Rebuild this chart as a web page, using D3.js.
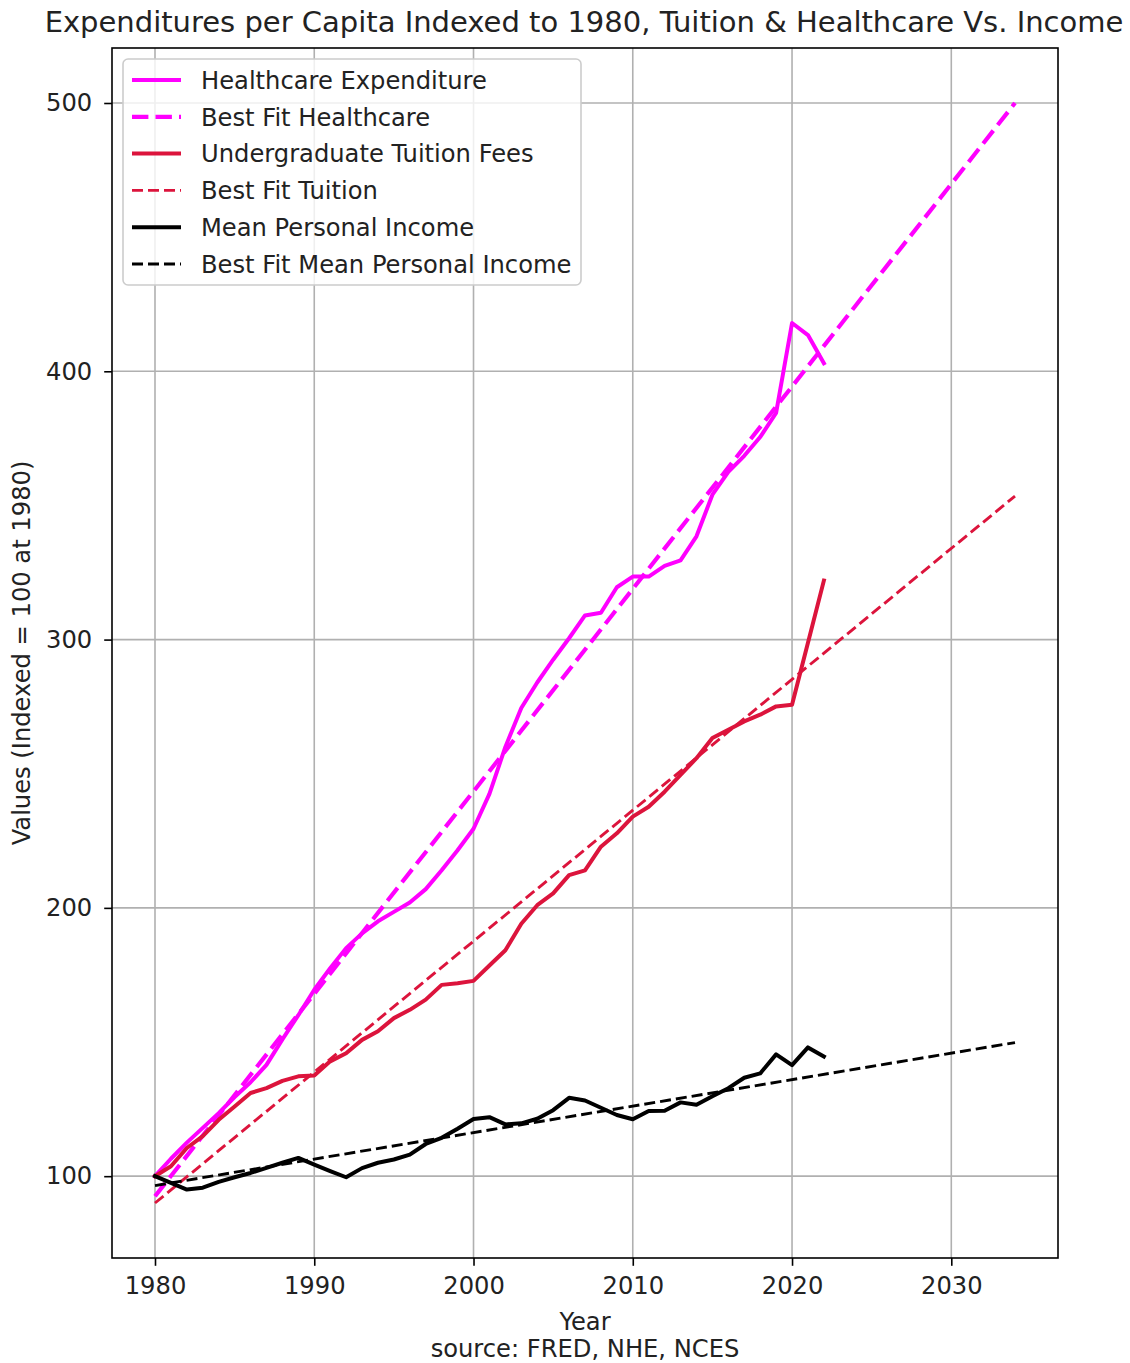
<!DOCTYPE html>
<html>
<head>
<meta charset="utf-8">
<script src="https://cdn.jsdelivr.net/npm/d3@7"></script>
<style>
  html, body { margin: 0; padding: 0; background: #fff; }
  svg { display: block; font-family: "DejaVu Sans", sans-serif; }
</style>
</head>
<body>
<svg id="chart" width="1130" height="1363"></svg>
<script>
// ---------------- data ----------------
const years = [1980,1981,1982,1983,1984,1985,1986,1987,1988,1989,
               1990,1991,1992,1993,1994,1995,1996,1997,1998,1999,
               2000,2001,2002,2003,2004,2005,2006,2007,2008,2009,
               2010,2011,2012,2013,2014,2015,2016,2017,2018,2019,
               2020,2021,2022];
const healthcare = [100,106.5,112.5,118,123.5,129.5,135,141.5,151,160,
                    169.5,177.5,185,190.5,195,198.5,202,207,214,221.5,
                    229.5,242.5,260,274.5,284,292.5,300.5,309,310,319.5,
                    323.5,323.5,327.5,329.5,338.5,354,362.5,368.5,375.5,384.5,
                    418,413.5,403];
const tuition = [100,103.7,110.5,114.9,121,126,131,132.8,135.5,137.2,
                 137.5,142.8,145.8,150.8,154,158.9,162,165.8,171.3,171.9,
                 172.8,178.5,184.2,194.1,201,205.4,212.2,214,222.8,227.8,
                 234,237.7,243.3,249.6,255.8,263.3,266.4,269.5,272,275.1,
                 275.7,298.8,322];
const income = [100,97.5,95,95.7,97.9,99.6,101.2,103.1,105,106.8,
                104.3,101.9,99.6,103,105,106.2,108,112,114.3,117.7,
                121.3,122,119.3,119.7,121.4,124.6,129.2,128.2,125.5,122.8,
                121.2,124.3,124.4,127.5,126.6,129.8,132.8,136.7,138.3,145.4,
                141.4,148,144.6];
// best-fit lines (endpoints)
const fitYears = [1980, 2034];
const fitHealthcare = [92.5, 500];
const fitTuition = [90, 353.5];
const fitIncome = [96.5, 149.8];

const xTicks = [1980, 1990, 2000, 2010, 2020, 2030];
const yTicks = [100, 200, 300, 400, 500];

const titleText = "Expenditures per Capita Indexed to 1980, Tuition & Healthcare Vs. Income";
const xLabel = ["Year", "source: FRED, NHE, NCES"];
const yLabel = "Values (Indexed = 100 at 1980)";

const legendItems = [
  {label: "Healthcare Expenditure", color: "#ff00ff", width: 4.0, dash: null},
  {label: "Best Fit Healthcare", color: "#ff00ff", width: 4.2, dash: "16.4,7.1"},
  {label: "Undergraduate Tuition Fees", color: "#dc143c", width: 4.0, dash: null},
  {label: "Best Fit Tuition", color: "#dc143c", width: 2.9, dash: "11,5"},
  {label: "Mean Personal Income", color: "#000000", width: 4.0, dash: null},
  {label: "Best Fit Mean Personal Income", color: "#000000", width: 2.9, dash: "11,5"}
];

// ---------------- layout ----------------
const svg = d3.select("#chart");
const L = 112, R = 1058, T = 48, B = 1258;
const FS = 24.2;

const xMin = 1980, xMax = 2034, xPad = (xMax - xMin) * 0.05;
const yMin = d3.min([fitTuition[0], fitHealthcare[0], d3.min(income)]);
const yMax = d3.max([fitHealthcare[1], d3.max(healthcare)]);
const yPad = (yMax - yMin) * 0.05;

const x = d3.scaleLinear().domain([xMin - xPad, xMax + xPad]).range([L, R]);
const y = d3.scaleLinear().domain([yMin - yPad, yMax + yPad]).range([B, T]);

// grid
const grid = svg.append("g");
xTicks.forEach(t => grid.append("line")
  .attr("x1", x(t)).attr("x2", x(t)).attr("y1", T).attr("y2", B)
  .attr("stroke", "#b0b0b0").attr("stroke-width", 1.6));
yTicks.forEach(t => grid.append("line")
  .attr("x1", L).attr("x2", R).attr("y1", y(t)).attr("y2", y(t))
  .attr("stroke", "#b0b0b0").attr("stroke-width", 1.6));

// clip
svg.append("clipPath").attr("id", "clip").append("rect")
  .attr("x", L).attr("y", T).attr("width", R - L).attr("height", B - T);
const plot = svg.append("g").attr("clip-path", "url(#clip)");

const line = d3.line().x(d => x(d[0])).y(d => y(d[1]));

function drawSeries(xs, vals, item) {
  const p = plot.append("path")
    .datum(xs.map((yr, i) => [yr, vals[i]]))
    .attr("d", line)
    .attr("fill", "none")
    .attr("stroke", item.color)
    .attr("stroke-width", item.width)
    .attr("stroke-linejoin", "round")
    .attr("stroke-linecap", item.dash ? "butt" : "square");
  if (item.dash) p.attr("stroke-dasharray", item.dash);
}

drawSeries(years, healthcare, legendItems[0]);
drawSeries(fitYears, fitHealthcare, legendItems[1]);
drawSeries(years, tuition, legendItems[2]);
drawSeries(fitYears, fitTuition, legendItems[3]);
drawSeries(years, income, legendItems[4]);
drawSeries(fitYears, fitIncome, legendItems[5]);

// axes
const xAxis = d3.axisBottom(x).tickValues(xTicks).tickFormat(d3.format("d"))
  .tickSize(7.8).tickPadding(6);
const yAxis = d3.axisLeft(y).tickValues(yTicks).tickFormat(d3.format("d"))
  .tickSize(7.8).tickPadding(12);

const gx = svg.append("g").attr("transform", `translate(0,${B})`).call(xAxis);
const gy = svg.append("g").attr("transform", `translate(${L},0)`).call(yAxis);
[gx, gy].forEach(g => {
  g.select(".domain").remove();
  g.selectAll(".tick line").attr("stroke", "#000").attr("stroke-width", 1.6);
  g.selectAll(".tick text").attr("font-size", FS).attr("fill", "#222")
    .attr("font-family", "DejaVu Sans");
});
gx.selectAll(".tick text").attr("dy", "0.9em");

// frame
svg.append("rect").attr("x", L).attr("y", T).attr("width", R - L).attr("height", B - T)
  .attr("fill", "none").attr("stroke", "#000").attr("stroke-width", 1.6);

// title
svg.append("text").attr("x", (L + R) / 2 - 1).attr("y", 32)
  .attr("text-anchor", "middle").attr("font-size", 29).attr("fill", "#222")
  .text(titleText);

// x label
xLabel.forEach((t, i) => svg.append("text")
  .attr("x", (L + R) / 2).attr("y", 1330 + i * 27)
  .attr("text-anchor", "middle").attr("font-size", FS).attr("fill", "#222")
  .text(t));

// y label
svg.append("text")
  .attr("transform", `translate(30,${(T + B) / 2}) rotate(-90)`)
  .attr("text-anchor", "middle").attr("font-size", FS).attr("fill", "#222")
  .text(yLabel);

// legend
const lg = svg.append("g");
const lx = 123, ly = 59, lw = 458, lh = 226, rowH = 36.8;
lg.append("rect").attr("x", lx).attr("y", ly).attr("width", lw).attr("height", lh)
  .attr("rx", 5).attr("ry", 5)
  .attr("fill", "#ffffff").attr("fill-opacity", 0.8)
  .attr("stroke", "#cccccc").attr("stroke-width", 1.6);
legendItems.forEach((it, i) => {
  const cy = 80 + i * rowH;
  const l = lg.append("line").attr("x1", 132).attr("x2", 181).attr("y1", cy).attr("y2", cy)
    .attr("stroke", it.color).attr("stroke-width", it.width);
  if (it.dash) l.attr("stroke-dasharray", it.dash);
  lg.append("text").attr("x", 201).attr("y", cy).attr("dy", "0.36em")
    .attr("font-size", FS).attr("fill", "#222").text(it.label);
});
</script>
</body>
</html>
